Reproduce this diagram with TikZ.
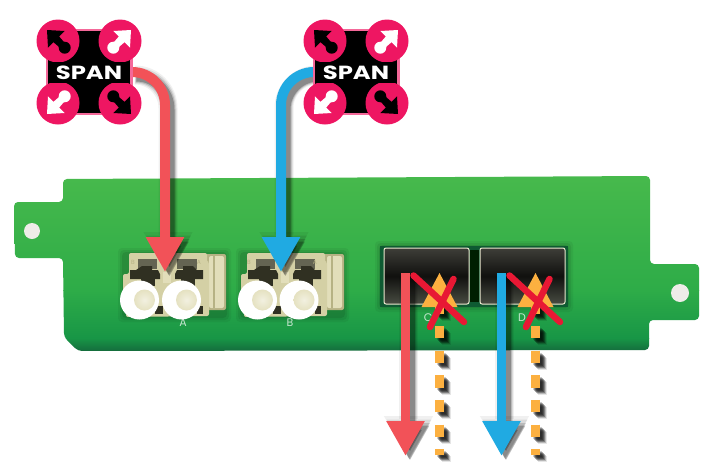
\documentclass[tikz,border=0pt]{standalone}
\usepackage{fontspec}
\setsansfont{Poppins}
\usetikzlibrary{arrows.meta}
\definecolor{spanpink}{RGB}{238,22,98}
\definecolor{redarrow}{RGB}{242,82,88}
\definecolor{bluearrow}{RGB}{32,170,226}
\definecolor{tagorange}{RGB}{252,176,64}
\definecolor{crossred}{RGB}{232,24,52}
\definecolor{beige}{RGB}{212,208,165}
\definecolor{beigelight}{RGB}{226,222,186}
\definecolor{beigeshade}{RGB}{182,178,132}
\definecolor{holedark}{RGB}{48,48,34}
\definecolor{holegrey}{RGB}{100,100,82}
\definecolor{gA}{RGB}{72,186,76}
\definecolor{gB}{RGB}{46,172,72}
\definecolor{gC}{RGB}{24,150,70}
\definecolor{gD}{RGB}{20,105,60}
\definecolor{cagegreen}{RGB}{14,90,50}
\definecolor{holepale}{RGB}{238,236,232}
\definecolor{cagetop}{RGB}{62,62,56}
\definecolor{cagemid}{RGB}{16,16,14}
\definecolor{cagelow}{RGB}{72,76,66}
\tikzset{
  flow/.style={line width=10pt,-{Triangle[length=35pt,width=36pt]}},
  rounded flow/.style={flow,rounded corners=33pt},
  tagline/.style={line width=9pt,tagorange,dash pattern=on 12.3pt off 12.3pt},
  crossline/.style={line width=6.5pt,crossred,line cap=round},
  faceplate letter/.style={font=\sffamily\fontsize{11}{11}\selectfont,text=white,text opacity=.75,inner sep=0pt},
  port letter/.style={font=\sffamily\fontsize{6}{6}\selectfont,text=beigeshade,inner sep=0pt},
  spanword/.style={font=\sffamily\bfseries\fontsize{19}{19}\selectfont,text=white,inner sep=0pt},
  span anchor/.style={minimum size=86pt,inner sep=0pt,rectangle},
}
\newcommand\softshadow[1]{%
  \foreach \e/\w/\l/\t/\o in {3/19/43/46/.06,3.5/16/40/42/.09,4/13/37/38/.15,4.5/10/35/36/.25}{%
    \draw[transform canvas={shift={(\e,\e)}},black,opacity=\o,line width=\w pt,
      -{Triangle[length=\l pt,width=\t pt]},rounded corners=33pt] #1;}%
}
\newcommand\tagshadow[2]{%
  \foreach \e/\o in {2/.2,3/.3,4/.34,5/.3,6/.2,7/.1}{%
    \draw[transform canvas={shift={(\e,\e)}},black,opacity=\o,line width=9pt,dash pattern=on 12.3pt off 12.3pt] (#1) -- (#2);}%
}
% glyph of the SPAN circles: canonical direction up-left
\newcommand\spanglyph[4]{%
  \begin{scope}[shift={(#1,#2)},rotate=#3]
    \fill[#4] (-11,-11) -- (-10,6.7) -- (-4.5,1.2) -- (4.5,9) -- (9,4.5) -- (1.2,-4.5) -- (6.7,-10) -- cycle;
    \fill[#4] (6.7,6.7) circle (6);
  \end{scope}}
\newcommand\spanicon[3]{% name, x, y
  \fill[spanpink!65!white] (#2-43.5,#3-43) rectangle (#2+43.5,#3+43);
  \fill[black] (#2-41,#3-41) rectangle (#2+41,#3+41);
  \fill[spanpink] (#2-31,#3-31) circle (21.5);
  \fill[spanpink] (#2+31,#3-31) circle (21.5);
  \fill[spanpink] (#2-31,#3+31) circle (21.5);
  \fill[spanpink] (#2+31,#3+31) circle (21.5);
  \fill[black] (#2-39,#3-10.5) rectangle (#2+39,#3+10.5);
  \spanglyph{#2-31}{#3-31}{0}{black}
  \spanglyph{#2+31}{#3-31}{-90}{white}
  \spanglyph{#2-31}{#3+31}{90}{white}
  \spanglyph{#2+31}{#3+31}{180}{black}
  \node[spanword] (#1word) at (#2,#3+0.5) {\scalebox{1.28}[1]{SPAN}};
}
\newcommand\softbox[4]{% soft dark halo
  \foreach \g/\o in {5/.05,3/.07,1/.09}{
    \fill[black,opacity=\o,rounded corners=4pt] (#1-\g,#2-\g) rectangle (#3+\g,#4+\g);}}
\newcommand\lcpair[1]{% x shift of a duplex LC port
  \begin{scope}[xshift=#1pt]
    \fill[beigeshade,rounded corners=2pt] (195,254) rectangle (226,310);
    \fill[beigelight,rounded corners=2pt] (209,256) rectangle (224,308);
    \fill[beigeshade] (213,256) rectangle (215,308);
    \fill[beige,rounded corners=2pt] (129,253) -- (207,253) -- (207,262) -- (209,262) -- (209,316) -- (126,317) -- (126,295) -- (123,295) -- (123,274) -- (129,274) -- cycle;
    % left keyhole
    \fill[holegrey] (138,259) rectangle (157,269);
    \fill[holedark] (130,270) -- (136,270) -- (142,266) -- (152,266) -- (152,270) -- (158,270) -- (160,274) -- (160,279) -- (130,279) -- cycle;
    \fill[holedark] (141,279) rectangle (155,286);
    % right keyhole
    \fill[holegrey] (177,259) rectangle (197,269);
    \fill[holedark] (175,274) -- (177,270) -- (183,270) -- (183,266) -- (193,266) -- (197,270) -- (203,270) -- (203,279) -- (175,279) -- cycle;
    \fill[holedark] (181,279) rectangle (195,286);
    \fill[beigelight] (163,272) rectangle (171,283);
    \fill[holedark] (155,306) rectangle (163,314);
    \fill[holedark] (197,306) rectangle (203,314);
  \end{scope}}
\newcommand\ferrule[2]{%
  \fill[white] (#1,#2) circle (19.5);
  \shade[inner color=beigelight!45!white,outer color=beigelight!90!white] (#1+5,#2) circle (10.5);
}
\begin{document}
\begin{tikzpicture}[x=1pt,y=-1pt]
\useasboundingbox (0,0) rectangle (712,469);
\fill[white] (0,0) rectangle (712,469);

% anchors for the connectors
\node[span anchor] (spanA) at (89,72) {};
\node[span anchor] (spanB) at (356,72) {};
\coordinate (portA) at (165,272);
\coordinate (portB) at (281,272);
\coordinate (sfpCout) at (405.5,273);
\coordinate (sfpDout) at (501.5,273);
\coordinate (exitC) at (405.5,456);
\coordinate (exitD) at (501.5,456);
\coordinate (tagCtop) at (439.5,301.5);
\coordinate (tagCend) at (439.5,455);
\coordinate (tagDtop) at (535.5,301.5);
\coordinate (tagDend) at (535.5,455);

% board
\begin{scope}
  \clip[rounded corners=4pt] (14,202) -- (63,202) -- (63,179) -- (650,176) -- (650,264) -- (699,264) -- (699,320) -- (649,320) -- (649,350) -- (78,351) -- (64,337) -- (63,258) -- (15,258) -- cycle;
  \shade[top color=gA,bottom color=gB] (0,170) rectangle (712,290);
  \shade[top color=gB,bottom color=gC] (0,290) rectangle (712,338);
  \shade[top color=gC,bottom color=gD] (0,338) rectangle (712,352);
\end{scope}
\fill[holepale] (32,231) circle (8);
\fill[holepale] (680,293) circle (9);

% SFP cages
\softbox{380}{246}{568}{307}
\fill[cagegreen] (380,246) rectangle (568,307);
\fill[black!80!green!60!black] (470,250) rectangle (479,302);
\foreach \nm/\xa/\xb in {cageC/384/469,cageD/480/565}{
  \shade[top color=cagetop,bottom color=cagelow,middle color=cagemid,draw=beigelight!70!white,line width=1pt,rounded corners=2pt] (\xa,248) rectangle (\xb,304);
}

% LC ports
\softbox{123}{253}{226}{317}
\softbox{241}{253}{344}{317}
\lcpair{0}
\lcpair{118}
\ferrule{139.5}{300}
\ferrule{181.5}{300}
\ferrule{257.5}{300}
\ferrule{299}{300}

% printed letters
\node[port letter] (pB1) at (133,262) {B};
\node[port letter] (pA1) at (199,262) {A};
\node[port letter] (pB2) at (249,262) {B};
\node[port letter] (pA2) at (315,262) {A};
\node[faceplate letter] (lblA) at (183,323) {A};
\node[faceplate letter] (lblB) at (290,323) {B};
\node[faceplate letter] (lblC) at (428,318) {C};
\node[faceplate letter] (lblD) at (522,318) {D};

% shadows and arrows
\softshadow{(spanA.east) -| (portA)}
\softshadow{(spanB.west) -| (portB)}
\softshadow{(sfpCout) -- (exitC)}
\softshadow{(sfpDout) -- (exitD)}
\draw[rounded flow,redarrow] (spanA.east) -| (portA);
\draw[rounded flow,bluearrow] (spanB.west) -| (portB);
\draw[flow,line width=9.5pt,redarrow] (sfpCout) -- (exitC);
\draw[flow,line width=9.5pt,bluearrow] (sfpDout) -- (exitD);

% blocked outputs
\tagshadow{tagCtop}{tagCend}
\tagshadow{tagDtop}{tagDend}
\foreach \t in {C,D}{
  \draw[tagline] (tag\t top) -- (tag\t end);
  \fill[tagorange] ([shift={(0,-28.5)}]tag\t top) -- ([shift={(18,5.5)}]tag\t top) -- ([shift={(-18,5.5)}]tag\t top) -- cycle;
  \draw[crossline] ([shift={(-26,-26)}]tag\t top) -- ([shift={(24.5,20.5)}]tag\t top);
  \draw[crossline] ([shift={(14,-22.5)}]tag\t top) -- ([shift={(-9.5,25.5)}]tag\t top);
}

% SPAN icons
\spanicon{spanA}{89}{72}
\spanicon{spanB}{356}{72}
\end{tikzpicture}
\end{document}
